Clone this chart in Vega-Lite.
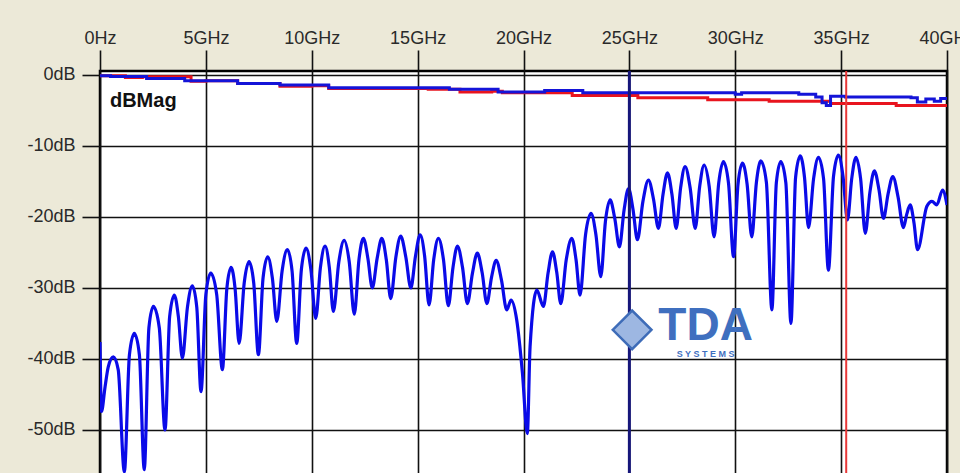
{
  "$schema": "https://vega.github.io/schema/vega-lite/v6.json",
  "width": 847,
  "height": 404,
  "autosize": {"type": "none"},
  "padding": {"left": 100, "top": 71, "right": 13, "bottom": 0},
  "background": "#ECE9D8",
  "config": {
    "view": {"fill": "white", "stroke": "#000000", "strokeWidth": 2.5},
    "axis": {
      "grid": true, "gridColor": "#111111", "gridWidth": 1.6, "gridOpacity": 1,
      "tickColor": "#111111", "tickWidth": 1.6, "domain": false,
      "labelFont": "Liberation Sans, Arial, sans-serif",
      "labelFontSize": 18, "labelColor": "#2a2a2a", "labelOverlap": false, "labelFlush": false
    }
  },
  "datasets": {
    "one": [{}],
    "xt": [
      {"f":0,"db":-37.6},{"f":0.07,"db":-47.4},{"f":0.24,"db":-43.9},{"f":0.39,"db":-41.1},{"f":0.63,"db":-39.7},{"f":0.86,"db":-41.5},{"f":1.15,"db":-55.9},
      {"f":1.39,"db":-39.4},{"f":1.62,"db":-36.4},{"f":1.86,"db":-39.4},{"f":2.09,"db":-55.6},
      {"f":2.31,"db":-35.6},{"f":2.52,"db":-32.6},{"f":2.80,"db":-35.6},{"f":3.07,"db":-50.0},
      {"f":3.29,"db":-34.0},{"f":3.51,"db":-31.0},{"f":3.70,"db":-34.0},{"f":3.89,"db":-39.9},
      {"f":4.13,"db":-32.7},{"f":4.36,"db":-29.7},{"f":4.57,"db":-32.7},{"f":4.77,"db":-44.6},
      {"f":5.00,"db":-30.9},{"f":5.23,"db":-27.9},{"f":5.51,"db":-30.9},{"f":5.78,"db":-41.5},
      {"f":5.99,"db":-30.1},{"f":6.19,"db":-27.1},{"f":6.38,"db":-30.1},{"f":6.57,"db":-37.8},
      {"f":6.81,"db":-29.3},{"f":7.04,"db":-26.3},{"f":7.26,"db":-29.3},{"f":7.48,"db":-39.4},
      {"f":7.70,"db":-28.6},{"f":7.92,"db":-25.6},{"f":8.14,"db":-28.6},{"f":8.35,"db":-34.7},
      {"f":8.60,"db":-27.6},{"f":8.85,"db":-24.6},{"f":9.07,"db":-27.6},{"f":9.29,"db":-37.8},
      {"f":9.51,"db":-27.4},{"f":9.73,"db":-24.4},{"f":9.96,"db":-27.4},{"f":10.19,"db":-34.3},
      {"f":10.41,"db":-27.1},{"f":10.63,"db":-24.1},{"f":10.83,"db":-27.1},{"f":11.02,"db":-33.3},
      {"f":11.28,"db":-26.3},{"f":11.53,"db":-23.3},{"f":11.77,"db":-26.3},{"f":12.01,"db":-33.7},
      {"f":12.23,"db":-26.0},{"f":12.44,"db":-23.0},{"f":12.65,"db":-25.8},{"f":12.86,"db":-30.0},
      {"f":13.09,"db":-25.8},{"f":13.31,"db":-23.0},{"f":13.52,"db":-26.0},{"f":13.73,"db":-31.5},
      {"f":13.97,"db":-25.7},{"f":14.20,"db":-22.7},{"f":14.44,"db":-25.6},{"f":14.68,"db":-30.0},
      {"f":14.90,"db":-25.5},{"f":15.12,"db":-22.5},{"f":15.33,"db":-25.5},{"f":15.54,"db":-32.4},
      {"f":15.76,"db":-26.0},{"f":15.98,"db":-23.0},{"f":16.22,"db":-26.0},{"f":16.45,"db":-32.5},
      {"f":16.67,"db":-27.1},{"f":16.88,"db":-24.1},{"f":17.12,"db":-27.1},{"f":17.35,"db":-32.2},
      {"f":17.59,"db":-27.9},{"f":17.82,"db":-25.1},{"f":18.05,"db":-27.9},{"f":18.27,"db":-32.2},
      {"f":18.49,"db":-28.5},{"f":18.71,"db":-26.1},{"f":18.96,"db":-28.9},{"f":19.21,"db":-33.1},
      {"f":19.41,"db":-31.7},{"f":19.68,"db":-34.5},{"f":19.95,"db":-42.0},{"f":20.18,"db":-50.5},
      {"f":20.31,"db":-38.3},{"f":20.63,"db":-30.3},{"f":20.94,"db":-32.6},
      {"f":21.16,"db":-27.9},{"f":21.37,"db":-24.9},{"f":21.57,"db":-27.8},{"f":21.76,"db":-32.2},
      {"f":22.02,"db":-26.0},{"f":22.28,"db":-23.0},{"f":22.48,"db":-26.0},{"f":22.67,"db":-31.0},
      {"f":22.93,"db":-22.5},{"f":23.19,"db":-19.5},{"f":23.42,"db":-22.5},{"f":23.65,"db":-28.4},
      {"f":23.87,"db":-20.6},{"f":24.09,"db":-17.6},{"f":24.31,"db":-20.2},{"f":24.53,"db":-24.2},
      {"f":24.75,"db":-19.0},{"f":24.96,"db":-16.0},{"f":25.17,"db":-18.9},{"f":25.38,"db":-23.2},
      {"f":25.64,"db":-17.8},{"f":25.90,"db":-14.8},{"f":26.14,"db":-17.5},{"f":26.37,"db":-21.6},
      {"f":26.59,"db":-16.8},{"f":26.80,"db":-13.8},{"f":27.01,"db":-16.8},{"f":27.21,"db":-21.6},
      {"f":27.42,"db":-15.9},{"f":27.63,"db":-12.9},{"f":27.87,"db":-15.9},{"f":28.11,"db":-21.6},
      {"f":28.32,"db":-15.7},{"f":28.53,"db":-12.7},{"f":28.77,"db":-15.7},{"f":29.00,"db":-22.8},
      {"f":29.22,"db":-15.2},{"f":29.44,"db":-12.2},{"f":29.68,"db":-15.2},{"f":29.92,"db":-25.6},
      {"f":30.13,"db":-15.4},{"f":30.34,"db":-12.4},{"f":30.56,"db":-15.4},{"f":30.78,"db":-22.8},
      {"f":31.00,"db":-15.1},{"f":31.21,"db":-12.1},{"f":31.47,"db":-15.1},{"f":31.73,"db":-33.1},
      {"f":31.94,"db":-15.2},{"f":32.15,"db":-12.2},{"f":32.39,"db":-15.2},{"f":32.63,"db":-35.0},
      {"f":32.85,"db":-14.4},{"f":33.07,"db":-11.4},{"f":33.27,"db":-14.4},{"f":33.46,"db":-21.5},
      {"f":33.70,"db":-14.6},{"f":33.93,"db":-11.6},{"f":34.17,"db":-14.6},{"f":34.40,"db":-27.5},
      {"f":34.64,"db":-14.3},{"f":34.87,"db":-11.3},{"f":35.09,"db":-14.3},{"f":35.30,"db":-20.4},
      {"f":35.50,"db":-14.6},{"f":35.70,"db":-11.6},{"f":35.92,"db":-14.6},{"f":36.14,"db":-22.3},
      {"f":36.36,"db":-16.5},{"f":36.57,"db":-13.5},{"f":36.79,"db":-16.2},{"f":37.00,"db":-20.2},
      {"f":37.22,"db":-16.7},{"f":37.44,"db":-14.3},{"f":37.69,"db":-17.2},{"f":37.94,"db":-21.5},
      {"f":38.10,"db":-19.6},{"f":38.26,"db":-18.3},{"f":38.44,"db":-20.8},{"f":38.61,"db":-24.6},
      {"f":39.05,"db":-18.5},{"f":39.29,"db":-17.8},{"f":39.52,"db":-18.3},{"f":39.79,"db":-16.2},{"f":40.0,"db":-18.3}
    ],
    "redTop": [
      {"f":0,"db":-0.1},{"f":1.2,"db":-0.35},{"f":2.0,"db":-0.25},{"f":4.3,"db":-0.9},{"f":5.0,"db":-0.8},{"f":6.5,"db":-1.2},
      {"f":8.5,"db":-1.6},{"f":10.0,"db":-1.5},{"f":10.8,"db":-1.9},{"f":15.5,"db":-2.0},{"f":17.0,"db":-2.4},{"f":18.5,"db":-2.3},
      {"f":19.0,"db":-2.5},{"f":22.3,"db":-2.9},{"f":25.4,"db":-3.2},{"f":28.7,"db":-3.5},{"f":31.6,"db":-3.7},{"f":34.5,"db":-4.0},
      {"f":37.6,"db":-4.3},{"f":40.0,"db":-4.3}
    ],
    "blueTop": [
      {"f":0,"db":-0.1},{"f":0.5,"db":-0.2},{"f":2.2,"db":-0.5},{"f":4.0,"db":-0.8},{"f":6.5,"db":-1.2},{"f":8.5,"db":-1.4},
      {"f":10.8,"db":-1.8},{"f":13.0,"db":-1.8},{"f":16.5,"db":-2.0},{"f":18.8,"db":-2.4},{"f":21.0,"db":-2.2},{"f":22.8,"db":-2.5},
      {"f":30.0,"db":-2.7},{"f":30.3,"db":-2.5},{"f":33.0,"db":-2.7},{"f":33.8,"db":-3.1},{"f":34.1,"db":-3.9},{"f":34.3,"db":-4.3},
      {"f":34.5,"db":-3.0},{"f":35.2,"db":-3.1},{"f":38.3,"db":-3.2},{"f":38.6,"db":-3.8},{"f":39.0,"db":-3.4},{"f":39.4,"db":-3.7},
      {"f":39.7,"db":-3.3},{"f":40.0,"db":-3.3}
    ]
  },
  "layer": [
    {
      "data": {"name": "xt"},
      "mark": {"type": "line", "color": "#0a0ae8", "strokeWidth": 3.2, "interpolate": "monotone", "clip": true},
      "encoding": {
        "x": {"field": "f", "type": "quantitative", "title": null,
              "scale": {"domain": [0, 40], "nice": false, "zero": false},
              "axis": {"orient": "top", "values": [0,5,10,15,20,25,30,35,40],
                       "labelExpr": "datum.value == 0 ? '0Hz' : datum.value + 'GHz'",
                       "tickSize": 21, "labelPadding": 3}},
        "y": {"field": "db", "type": "quantitative", "title": null,
              "scale": {"domain": [-56.34, 0.56], "nice": false, "zero": false},
              "axis": {"orient": "left", "values": [0,-10,-20,-30,-40,-50],
                       "labelExpr": "datum.value + 'dB'",
                       "tickSize": 18, "labelPadding": 7}}
      }
    },
    {
      "data": {"name": "redTop"},
      "mark": {"type": "line", "color": "#e8141e", "strokeWidth": 3, "interpolate": "step-after", "clip": true},
      "encoding": {
        "x": {"field": "f", "type": "quantitative", "title": null},
        "y": {"field": "db", "type": "quantitative", "title": null}
      }
    },
    {
      "data": {"name": "blueTop"},
      "mark": {"type": "line", "color": "#1414d8", "strokeWidth": 3, "interpolate": "step-after", "clip": true},
      "encoding": {
        "x": {"field": "f", "type": "quantitative", "title": null},
        "y": {"field": "db", "type": "quantitative", "title": null}
      }
    },
    {
      "data": {"name": "one"},
      "mark": {"type": "rule", "color": "#16167a", "strokeWidth": 3},
      "encoding": {"x": {"datum": 25, "type": "quantitative", "title": null}}
    },
    {
      "data": {"name": "one"},
      "mark": {"type": "rule", "color": "#e83838", "strokeWidth": 2},
      "encoding": {"x": {"datum": 35.24, "type": "quantitative", "title": null}}
    },
    {
      "data": {"name": "one"},
      "mark": {"type": "text", "text": "dBMag", "font": "Liberation Sans, Arial, sans-serif", "fontWeight": "bold",
               "fontSize": 20, "color": "#111111", "align": "left", "baseline": "alphabetic"},
      "encoding": {
        "x": {"datum": 0.47, "type": "quantitative", "title": null},
        "y": {"datum": -4.5, "type": "quantitative", "title": null}
      }
    },
    {
      "data": {"name": "one"},
      "mark": {"type": "point", "shape": "diamond", "size": 1500, "filled": true, "fill": "#9db7e2",
               "stroke": "#3e6cb8", "strokeWidth": 2.5, "opacity": 1},
      "encoding": {
        "x": {"datum": 25.13, "type": "quantitative", "title": null},
        "y": {"datum": -35.9, "type": "quantitative", "title": null}
      }
    },
    {
      "data": {"name": "one"},
      "mark": {"type": "text", "text": "TDA", "font": "Liberation Sans, Arial, sans-serif", "fontWeight": "bold",
               "fontSize": 46, "color": "#3f6fbf", "align": "center", "baseline": "alphabetic"},
      "encoding": {
        "x": {"datum": 28.6, "type": "quantitative", "title": null},
        "y": {"datum": -37.3, "type": "quantitative", "title": null}
      }
    },
    {
      "data": {"name": "one"},
      "mark": {"type": "text", "text": "S Y S T E M S", "font": "Liberation Sans, Arial, sans-serif", "fontWeight": "bold",
               "fontSize": 9, "color": "#3f6fbf", "align": "center", "baseline": "alphabetic"},
      "encoding": {
        "x": {"datum": 28.6, "type": "quantitative", "title": null},
        "y": {"datum": -39.7, "type": "quantitative", "title": null}
      }
    }
  ]
}
